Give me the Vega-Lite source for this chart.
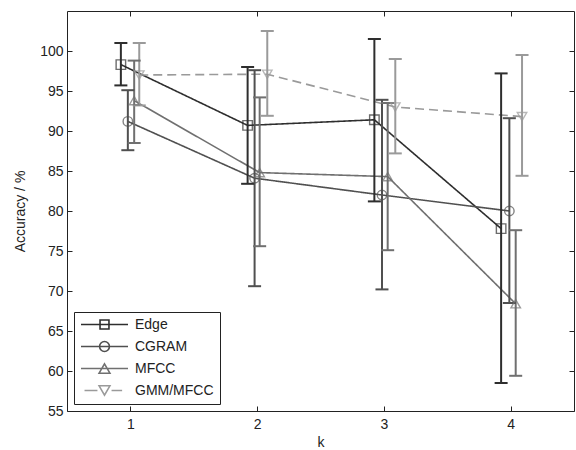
{
  "$schema": "https://vega.github.io/schema/vega-lite/v6.json",
  "width": 507,
  "height": 400,
  "autosize": {"type": "none"},
  "padding": {"left": 67, "top": 11, "right": 2, "bottom": 39},
  "background": "white",
  "config": {
    "view": {"stroke": "#222222", "strokeWidth": 1},
    "font": "Liberation Sans",
    "axis": {
      "domain": false, "grid": false, "tickSize": -5, "tickColor": "#222222", "tickWidth": 1,
      "labelFont": "Liberation Sans", "labelFontSize": 14, "labelColor": "#222222",
      "titleFont": "Liberation Sans", "titleFontSize": 14, "titleFontWeight": "normal", "titleColor": "#222222"
    },
    "legend": {
      "symbolSize": 2209, "symbolStrokeWidth": 1.6, "symbolFillColor": "transparent", "symbolOpacity": 1,
      "clipHeight": 13, "rowPadding": 7.0, "padding": 6, "labelOffset": 6,
      "labelFont": "Liberation Sans", "labelFontSize": 14, "labelColor": "#222222",
      "strokeColor": "#222222", "fillColor": "white", "offset": 7
    }
  },
  "data": {"values": [
    {"series": "Edge", "k": 1, "x": 0.925, "y": 98.3, "lo": 95.7, "hi": 101.0},
    {"series": "Edge", "k": 2, "x": 1.925, "y": 90.7, "lo": 83.4, "hi": 98.0},
    {"series": "Edge", "k": 3, "x": 2.925, "y": 91.4, "lo": 81.2, "hi": 101.5},
    {"series": "Edge", "k": 4, "x": 3.925, "y": 77.8, "lo": 58.5, "hi": 97.2},
    {"series": "CGRAM", "k": 1, "x": 0.98, "y": 91.2, "lo": 87.6, "hi": 95.1},
    {"series": "CGRAM", "k": 2, "x": 1.98, "y": 84.1, "lo": 70.6, "hi": 97.6},
    {"series": "CGRAM", "k": 3, "x": 2.985, "y": 82.0, "lo": 70.2, "hi": 93.9},
    {"series": "CGRAM", "k": 4, "x": 3.99, "y": 80.0, "lo": 68.5, "hi": 91.6},
    {"series": "MFCC", "k": 1, "x": 1.03, "y": 93.8, "lo": 88.5, "hi": 98.8},
    {"series": "MFCC", "k": 2, "x": 2.02, "y": 84.8, "lo": 75.6, "hi": 94.2},
    {"series": "MFCC", "k": 3, "x": 3.03, "y": 84.3, "lo": 75.1, "hi": 93.5},
    {"series": "MFCC", "k": 4, "x": 4.04, "y": 68.4, "lo": 59.4, "hi": 77.6},
    {"series": "GMM/MFCC", "k": 1, "x": 1.07, "y": 97.0, "lo": 93.2, "hi": 101.0},
    {"series": "GMM/MFCC", "k": 2, "x": 2.08, "y": 97.1, "lo": 91.9, "hi": 102.5},
    {"series": "GMM/MFCC", "k": 3, "x": 3.09, "y": 93.0, "lo": 87.2, "hi": 99.0},
    {"series": "GMM/MFCC", "k": 4, "x": 4.09, "y": 91.8, "lo": 84.4, "hi": 99.5}
  ]},
  "resolve": {"scale": {"x": "independent", "y": "independent"}, "axis": {"x": "independent", "y": "independent"}},
  "layer": [
    {
      "layer": [
        {
          "mark": {"type": "line", "strokeWidth": 1.6},
          "encoding": {
            "x": {"field": "x", "type": "quantitative",
                  "scale": {"domain": [0.5, 4.5], "nice": false, "zero": false},
                  "axis": {"orient": "bottom", "values": [1, 2, 3, 4], "format": "d", "title": "k", "labelPadding": 11, "titlePadding": 4}},
            "y": {"field": "y", "type": "quantitative",
                  "scale": {"domain": [55, 105], "nice": false, "zero": false},
                  "axis": {"orient": "left", "values": [55, 60, 65, 70, 75, 80, 85, 90, 95, 100], "format": "d", "title": "Accuracy / %", "labelPadding": 9, "titlePadding": 12}},
            "order": {"field": "x", "type": "quantitative"},
            "stroke": {"field": "series", "type": "nominal",
                       "scale": {"domain": ["Edge", "CGRAM", "MFCC", "GMM/MFCC"], "range": ["#2e2e2e", "#505050", "#707070", "#9a9a9a"]}},
            "strokeDash": {"condition": {"test": "datum.series === 'GMM/MFCC'", "value": [9, 5]}, "value": [1, 0]}
          }
        },
        {
          "mark": {"type": "rule", "strokeWidth": 2},
          "encoding": {
            "x": {"field": "x", "type": "quantitative"},
            "y": {"field": "lo", "type": "quantitative"},
            "y2": {"field": "hi"},
            "stroke": {"field": "series", "type": "nominal"}
          }
        },
        {
          "mark": {"type": "rule", "strokeWidth": 2, "xOffset": -6.5, "x2Offset": 6.5},
          "encoding": {
            "x": {"field": "x", "type": "quantitative"},
            "x2": {"field": "x"},
            "y": {"field": "lo", "type": "quantitative"},
            "stroke": {"field": "series", "type": "nominal"}
          }
        },
        {
          "mark": {"type": "rule", "strokeWidth": 2, "xOffset": -6.5, "x2Offset": 6.5},
          "encoding": {
            "x": {"field": "x", "type": "quantitative"},
            "x2": {"field": "x"},
            "y": {"field": "hi", "type": "quantitative"},
            "stroke": {"field": "series", "type": "nominal"}
          }
        },
        {
          "mark": {"type": "point", "filled": false, "strokeWidth": 1.4, "size": 90},
          "encoding": {
            "x": {"field": "x", "type": "quantitative"},
            "y": {"field": "y", "type": "quantitative"},
            "stroke": {"field": "series", "type": "nominal"},
            "shape": {"condition": [
              {"test": "datum.series === 'Edge'", "value": "square"},
              {"test": "datum.series === 'CGRAM'", "value": "circle"},
              {"test": "datum.series === 'MFCC'", "value": "triangle-up"}
            ], "value": "triangle-down"}
          }
        }
      ]
    },
    {
      "mark": {"type": "point", "filled": false, "strokeWidth": 1.6, "strokeOpacity": 0},
      "encoding": {
        "x": {"field": "x", "type": "quantitative",
              "scale": {"domain": [0.5, 4.5], "nice": false, "zero": false},
              "axis": {"orient": "top", "values": [1, 2, 3, 4], "ticks": true, "tickSize": -5, "labels": false, "title": null}},
        "y": {"field": "y", "type": "quantitative",
              "scale": {"domain": [55, 105], "nice": false, "zero": false},
              "axis": {"orient": "right", "values": [55, 60, 65, 70, 75, 80, 85, 90, 95, 100], "ticks": true, "tickSize": -5, "labels": false, "title": null}},
        "stroke": {"field": "series", "type": "nominal",
                   "legend": {"orient": "bottom-left", "title": null}},
        "shape": {"field": "series", "type": "nominal",
                  "scale": {"domain": ["Edge", "CGRAM", "MFCC", "GMM/MFCC"],
                            "range": [
                              "M-1,0H1M-0.19,-0.19H0.19V0.19H-0.19Z",
                              "M-1,0H1M0.21,0A0.21,0.21,0,1,1,-0.21,0A0.21,0.21,0,1,1,0.21,0Z",
                              "M-1,0H1M0,-0.2L0.23,0.2H-0.23Z",
                              "M-0.85,0H-0.3M0.3,0H0.75M-0.23,-0.2H0.23L0,0.2Z"
                            ]},
                  "legend": {"orient": "bottom-left", "title": null}}
      }
    }
  ]
}
